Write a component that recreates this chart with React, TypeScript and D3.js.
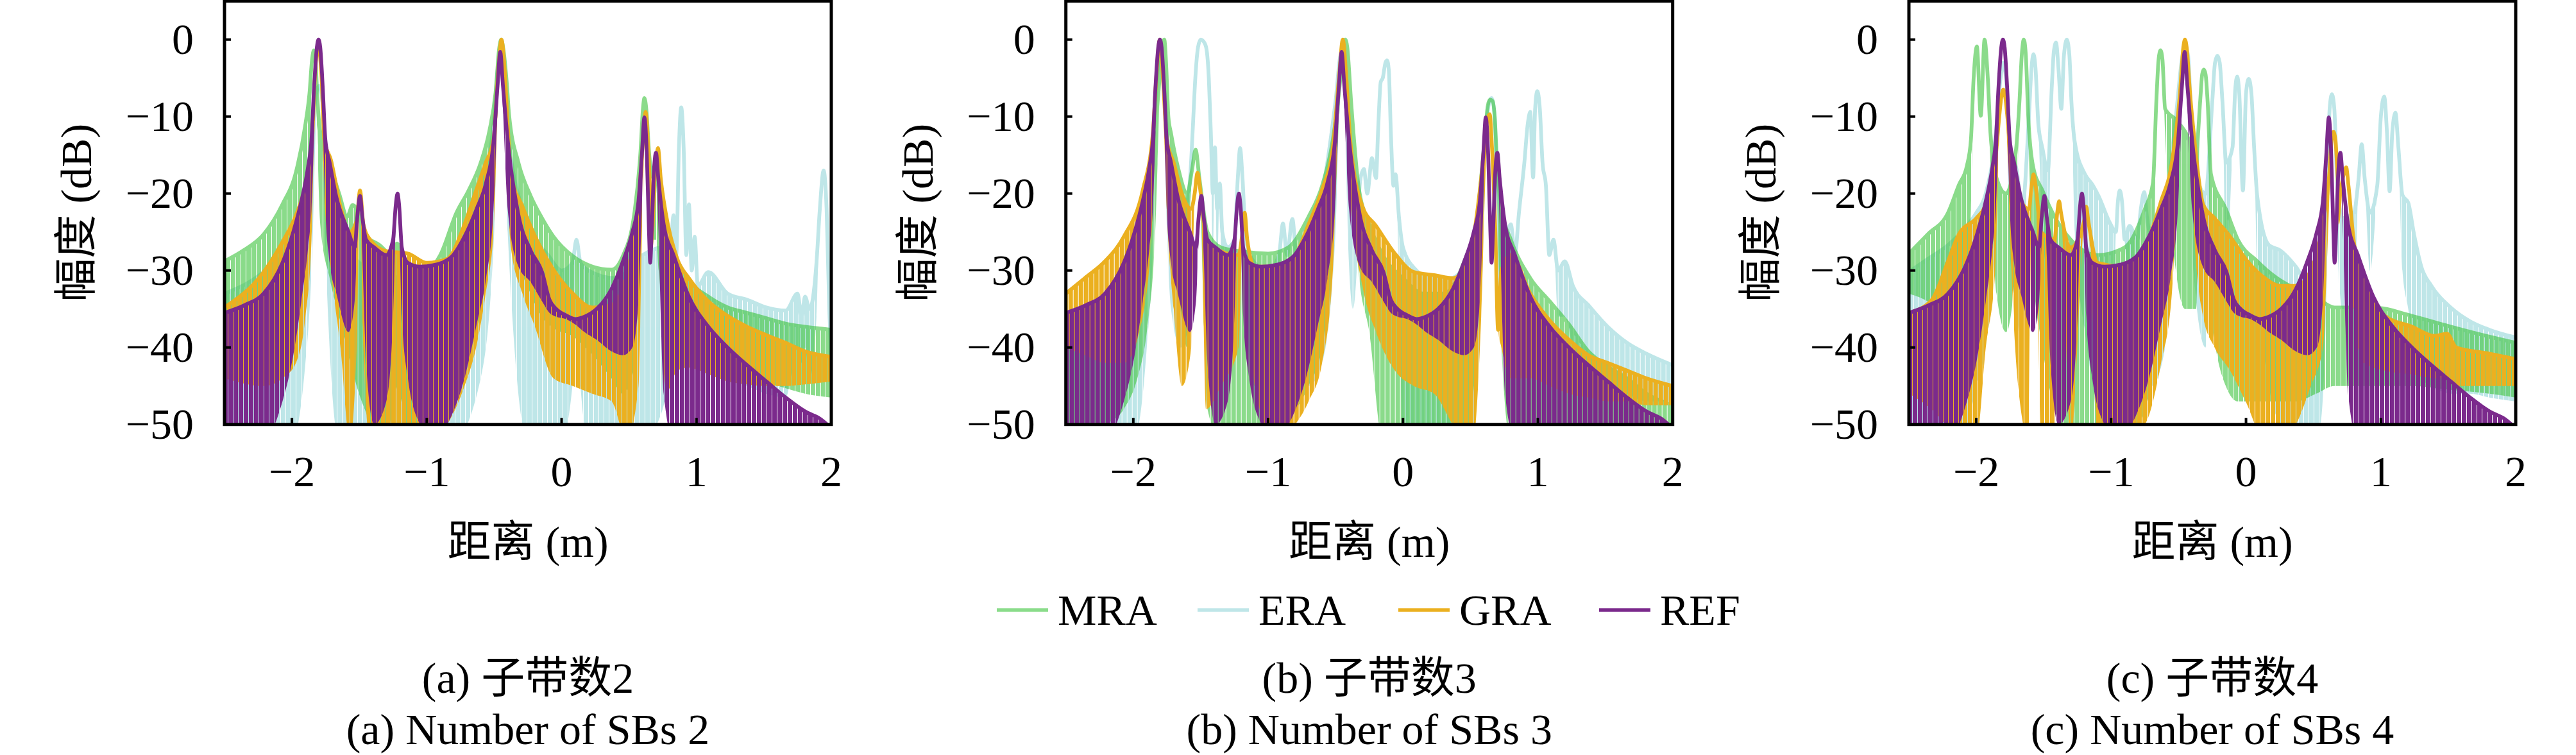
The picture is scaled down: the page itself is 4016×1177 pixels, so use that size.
import React, { useEffect, useRef } from "react";
import * as d3 from "d3";

// 각 행: [거리(m), 상단 포락선(dB), 하단 포락선(dB)] — 상단=하단이면 매끈한 로브 구간
type Row = [number, number, number];

const seriesNames = ["MRA", "ERA", "GRA", "REF"];
const xTicks = [-2, -1, 0, 1, 2];
const yTicks = [0, -10, -20, -30, -40, -50];
const captionsZh = ["(a) 子带数2", "(b) 子带数3", "(c) 子带数4"];
const captionsEn = ["(a) Number of SBs 2", "(b) Number of SBs 3", "(c) Number of SBs 4"];

// REF 곡선은 세 그림 모두 동일
const refRows: Row[] = [
  [-2.5, -35.5, -52], [-2.35, -34.5, -52], [-2.21, -33, -52], [-2.07, -29, -47], [-1.99, -25, -41],
  [-1.93, -21, -34], [-1.88, -16.5, -27], [-1.855, -13, -22], [-1.835, -6, -12], [-1.815, -1, -1],
  [-1.803, 0, 0], [-1.79, -1, -1], [-1.772, -6, -10], [-1.752, -13, -22], [-1.72, -16, -29],
  [-1.67, -20.5, -33], [-1.58, -25, -38], [-1.535, -27, -34], [-1.515, -23, -26], [-1.495, -20.3, -20.3],
  [-1.478, -23, -28], [-1.45, -26, -42], [-1.39, -27, -50], [-1.3, -28, -47], [-1.25, -26, -36],
  [-1.23, -21.5, -24], [-1.217, -20, -20], [-1.205, -21.5, -24], [-1.185, -27, -36], [-1.14, -29, -44],
  [-1.05, -29.5, -50], [-0.95, -29.3, -52], [-0.82, -28.3, -49], [-0.72, -25.6, -44], [-0.63, -22, -37],
  [-0.56, -18.6, -31], [-0.505, -13.3, -22], [-0.475, -6, -9], [-0.455, -1.6, -1.6], [-0.435, -6, -9],
  [-0.4, -13, -22], [-0.32, -22.8, -29.5], [-0.23, -27.4, -31.5], [-0.145, -30.2, -34], [-0.09, -33.8, -35.5],
  [-0.04, -35, -36], [0.03, -35.8, -36.3], [0.1, -36.3, -37], [0.17, -36, -38], [0.26, -35, -39],
  [0.37, -32.4, -40.5], [0.455, -28.8, -41], [0.525, -25, -40], [0.57, -21, -34], [0.595, -15, -22],
  [0.614, -10.1, -10.1], [0.632, -15, -20], [0.648, -25, -27], [0.657, -29, -29], [0.668, -25, -27],
  [0.685, -17, -20], [0.7, -14.7, -14.7], [0.717, -18, -24], [0.757, -24, -46], [0.83, -28, -52],
  [0.944, -33.4, -52], [1.088, -37.3, -52], [1.231, -40, -52], [1.375, -42.3, -52], [1.518, -44.4, -52],
  [1.662, -46.5, -52], [1.805, -48.3, -52], [1.92, -49.3, -52], [2.0, -50.5, -52],
];

// (a) 子带数2
const mraRowsA: Row[] = [
  [-2.5, -28.8, -40], [-2.36, -27.4, -40], [-2.21, -25.3, -40], [-2.07, -21.4, -39], [-1.97, -17.2, -36],
  [-1.9, -11, -28], [-1.87, -7, -16], [-1.85, -2.5, -4], [-1.837, -1.4, -1.4], [-1.824, -3, -4],
  [-1.81, -8, -14], [-1.79, -12, -24], [-1.72, -16, -31], [-1.65, -20, -36], [-1.59, -23, -40],
  [-1.55, -21.5, -43], [-1.52, -22, -45], [-1.46, -25.3, -48], [-1.35, -26.7, -52], [-1.27, -27.8, -50],
  [-1.22, -26.5, -45], [-1.15, -29.5, -50], [-1.0, -30, -52], [-0.9, -28, -52], [-0.78, -22.5, -46],
  [-0.69, -19.6, -41], [-0.6, -16, -35], [-0.535, -11.8, -26], [-0.49, -6.9, -12], [-0.462, -1, -1],
  [-0.448, 0, 0], [-0.434, -1, -1], [-0.405, -6, -10], [-0.39, -9.7, -16], [-0.32, -16, -28],
  [-0.23, -20.3, -33], [-0.145, -23.2, -36], [-0.06, -25.6, -37.5], [0.08, -28.1, -38.5], [0.23, -29.5, -41],
  [0.37, -29.9, -44], [0.455, -28.1, -46], [0.54, -22.5, -42], [0.586, -14.3, -22], [0.603, -9, -10],
  [0.614, -7.6, -7.6], [0.628, -9, -10], [0.65, -15, -22], [0.68, -18, -26], [0.7, -16, -26],
  [0.72, -20, -30], [0.76, -25, -36], [0.85, -28.5, -39], [0.944, -31.3, -40], [1.088, -33.4, -41],
  [1.231, -34.8, -42.5], [1.375, -35.5, -43.5], [1.518, -36.2, -44.5], [1.662, -36.9, -45.3], [1.805, -37.3, -46],
  [2.0, -37.7, -46.5],
];
const eraRowsA: Row[] = [
  [-2.5, -33, -52], [-2.2, -30, -52], [-2.0, -26, -52], [-1.9, -20, -42], [-1.85, -12, -28],
  [-1.82, -7, -10], [-1.8, -6, -6], [-1.78, -7, -10], [-1.75, -14, -28], [-1.65, -24, -52],
  [-1.55, -28, -52], [-1.4, -30, -52], [-1.2, -31, -52], [-1.0, -32, -52], [-0.8, -30, -52],
  [-0.6, -20, -44], [-0.5, -10, -25], [-0.47, -3, -4], [-0.45, -1, -1], [-0.43, -3, -4],
  [-0.4, -12, -25], [-0.25, -24, -52], [-0.1, -28, -52], [0.0, -30, -52], [0.08, -29, -45],
  [0.11, -26, -26], [0.14, -29, -45], [0.2, -30, -52], [0.4, -31, -52], [0.6, -28, -52],
  [0.75, -27, -48], [0.8, -30, -40], [0.83, -22.8, -22.8], [0.85, -28, -28], [0.87, -14, -14],
  [0.887, -8.8, -8.8], [0.905, -14, -14], [0.925, -28, -28], [0.944, -21.4, -21.4], [0.965, -30, -30],
  [0.987, -25.6, -25.6], [1.01, -32, -38], [1.088, -30.2, -41], [1.231, -33, -44], [1.375, -33.8, -45],
  [1.518, -34.8, -46], [1.662, -35.2, -46.5], [1.75, -33, -40], [1.78, -36, -42], [1.805, -33.4, -40],
  [1.84, -35, -44], [1.89, -29, -36], [1.915, -22, -22], [1.943, -17, -17], [1.965, -22, -22],
  [1.985, -35, -45], [2.0, -41, -52],
];
const graRowsA: Row[] = [
  [-2.5, -34.8, -44], [-2.21, -30.2, -45], [-2.07, -26.3, -44], [-1.97, -22.8, -42], [-1.9, -19, -36],
  [-1.855, -14.7, -26], [-1.83, -5, -8], [-1.805, -0.5, -0.5], [-1.78, -5, -8], [-1.76, -13, -20],
  [-1.71, -15.7, -30], [-1.64, -21.7, -40], [-1.57, -25, -52], [-1.52, -23.5, -40], [-1.495, -19.6, -19.6],
  [-1.47, -24, -40], [-1.42, -26, -52], [-1.3, -27.5, -52], [-1.14, -27.8, -52], [-1.0, -29, -52],
  [-0.85, -28.5, -50], [-0.72, -24, -45], [-0.634, -19.6, -40], [-0.563, -16, -33], [-0.505, -13, -25],
  [-0.47, -4, -7], [-0.446, 0, 0], [-0.422, -4, -7], [-0.4, -11, -20], [-0.376, -17.5, -27],
  [-0.29, -21.7, -33], [-0.204, -25.3, -37], [-0.06, -29.9, -44], [0.083, -33, -45], [0.227, -34.8, -46],
  [0.37, -34.5, -47], [0.485, -30.2, -52], [0.57, -21.4, -45], [0.6, -14, -22], [0.623, -9.4, -9.4],
  [0.645, -15, -20], [0.665, -22, -28], [0.69, -18, -24], [0.715, -14.1, -14.1], [0.735, -18, -30],
  [0.772, -22.5, -46], [0.858, -28.5, -43], [0.944, -31, -42.6], [1.088, -34, -43.5], [1.231, -35.9, -44.4],
  [1.375, -37.3, -44.8], [1.518, -38.4, -45], [1.662, -39.4, -45], [1.805, -40.5, -44.8], [2.0, -41.2, -44.4],
];

// (b) 子带数3
const mraRowsB: Row[] = [
  [-2.5, -37, -52], [-2.35, -35, -52], [-2.2, -33, -50], [-2.07, -29, -48], [-1.97, -24, -44],
  [-1.9, -19, -38], [-1.84, -12, -26], [-1.8, -4, -6], [-1.783, -0.5, -0.5], [-1.77, 0, 0],
  [-1.757, -3, -3], [-1.74, -10, -14], [-1.72, -12.2, -24], [-1.67, -16.5, -32], [-1.6, -20, -40],
  [-1.565, -17, -17], [-1.538, -14.3, -14.3], [-1.51, -18, -18], [-1.45, -25, -48], [-1.35, -27, -52],
  [-1.2, -27.5, -50], [-1.0, -27.8, -50], [-0.85, -27, -49], [-0.7, -23, -45], [-0.6, -19, -40],
  [-0.52, -13, -28], [-0.47, -6, -9], [-0.443, -1, -1], [-0.428, 0, 0], [-0.413, -1, -1],
  [-0.385, -8, -12], [-0.33, -19, -30], [-0.25, -24, -38], [-0.15, -28, -52], [0.0, -31, -52],
  [0.15, -33, -52], [0.3, -33, -52], [0.45, -29, -52], [0.55, -23, -40], [0.6, -14, -20],
  [0.63, -8.5, -8.5], [0.645, -7.8, -7.8], [0.665, -8, -8], [0.68, -10, -10], [0.7, -17, -22],
  [0.73, -22, -40], [0.8, -26, -52], [0.944, -31, -52], [1.088, -34, -52], [1.231, -37, -52],
  [1.375, -40.5, -52], [1.518, -42.5, -52], [1.662, -44, -52], [1.805, -46, -52], [2.0, -47.5, -52],
];
const eraRowsB: Row[] = [
  [-2.5, -38, -52], [-2.2, -34, -52], [-2.0, -29, -52], [-1.9, -22, -40], [-1.85, -12, -25],
  [-1.82, -4, -4], [-1.8, -1, -1], [-1.78, -4, -4], [-1.75, -12, -25], [-1.72, -18, -35],
  [-1.65, -20, -40], [-1.6, -21, -38], [-1.575, -17, -17], [-1.56, -12, -12], [-1.54, -5, -5],
  [-1.52, -1, -1], [-1.5, 0, 0], [-1.47, -0.5, -0.5], [-1.455, -1.5, -1.5], [-1.44, -5, -5],
  [-1.425, -12, -12], [-1.41, -20, -28], [-1.395, -14, -14], [-1.378, -22, -30], [-1.358, -18.7, -18.7],
  [-1.34, -25, -38], [-1.3, -27, -40], [-1.25, -26, -35], [-1.225, -18, -18], [-1.208, -14.1, -14.1],
  [-1.19, -18, -18], [-1.165, -26, -35], [-1.1, -29, -45], [-1.0, -30, -45], [-0.92, -28, -40],
  [-0.89, -23.9, -23.9], [-0.86, -28, -28], [-0.82, -23.3, -23.3], [-0.79, -28, -40], [-0.7, -25, -45],
  [-0.6, -20, -42], [-0.5, -8, -25], [-0.46, -2, -2], [-0.44, -2, -2], [-0.41, -10, -25],
  [-0.37, -22, -35], [-0.29, -16.8, -16.8], [-0.265, -20, -20], [-0.23, -15.4, -15.4], [-0.2, -18, -18],
  [-0.185, -12, -12], [-0.165, -5.5, -5.5], [-0.15, -5, -5], [-0.13, -3, -3], [-0.118, -2.7, -2.7],
  [-0.105, -4, -4], [-0.09, -12, -12], [-0.07, -19, -19], [-0.055, -17.5, -17.5], [-0.03, -23, -30],
  [0.0, -27, -52], [0.1, -30, -52], [0.2, -31, -52], [0.35, -31, -52], [0.5, -28, -52],
  [0.58, -20, -35], [0.63, -9, -9], [0.657, -7.6, -7.6], [0.68, -10, -10], [0.7, -20, -30],
  [0.75, -26, -40], [0.8, -24, -24], [0.83, -28, -30], [0.86, -22.5, -22.5], [0.9, -16, -16],
  [0.925, -11, -11], [0.944, -9.4, -9.4], [0.965, -17.9, -17.9], [0.98, -9, -9], [0.996, -6.7, -6.7],
  [1.015, -9, -9], [1.035, -16, -16], [1.06, -19, -19], [1.085, -28, -28], [1.116, -26, -26],
  [1.15, -30, -36], [1.2, -28.8, -36], [1.26, -32, -40], [1.375, -34.5, -43], [1.518, -37.3, -45],
  [1.662, -39.4, -46], [1.805, -40.8, -47], [2.0, -42.3, -47],
];
const graRowsB: Row[] = [
  [-2.5, -33, -40], [-2.36, -31, -41], [-2.21, -28.8, -42], [-2.07, -25.6, -42], [-1.93, -19.6, -36],
  [-1.855, -12.2, -22], [-1.83, -5, -8], [-1.803, 0, 0], [-1.78, -5, -8], [-1.752, -13, -22],
  [-1.7, -16, -35], [-1.64, -20, -45], [-1.57, -22, -40], [-1.545, -20, -20], [-1.524, -17.3, -17.3],
  [-1.5, -20, -20], [-1.46, -26, -48], [-1.35, -27.5, -45], [-1.22, -28, -40], [-1.19, -25, -25],
  [-1.174, -22.5, -22.5], [-1.155, -26, -26], [-1.1, -29.5, -45], [-0.95, -29.5, -52], [-0.8, -28, -50],
  [-0.7, -24, -47], [-0.6, -19.5, -42], [-0.52, -14, -30], [-0.475, -5, -8], [-0.446, 0, 0],
  [-0.42, -5, -8], [-0.39, -13.3, -20], [-0.3, -21.7, -32], [-0.2, -24.2, -38], [-0.06, -27.8, -43],
  [0.08, -30.2, -45], [0.23, -30.6, -46], [0.37, -31, -50], [0.45, -30, -52], [0.52, -26, -52],
  [0.58, -18, -36], [0.62, -11, -14], [0.643, -9.7, -9.7], [0.66, -14, -16], [0.685, -25, -28],
  [0.705, -37.7, -37.7], [0.73, -30, -40], [0.8, -28, -44], [0.944, -33, -44], [1.088, -36.5, -45],
  [1.231, -39, -46], [1.375, -41, -46.5], [1.518, -42, -47], [1.662, -43, -47], [1.805, -44, -47.5],
  [2.0, -45, -47.5],
];

// (c) 子带数4
const mraRowsC: Row[] = [
  [-2.5, -27.8, -33], [-2.36, -25.3, -34], [-2.21, -22.5, -36], [-2.13, -18.9, -33], [-2.07, -16.4, -30],
  [-2.04, -13, -22], [-2.02, -5, -5], [-1.996, -0.9, -0.9], [-1.967, -9.9, -9.9], [-1.939, 0, 0],
  [-1.915, -5, -5], [-1.895, -12.2, -16], [-1.85, -18, -33], [-1.78, -20, -38], [-1.71, -15, -30],
  [-1.68, -8, -8], [-1.663, -2, -2], [-1.648, 0, 0], [-1.633, -2, -2], [-1.615, -10, -12],
  [-1.58, -16.4, -30], [-1.51, -19.6, -40], [-1.42, -23, -48], [-1.3, -26, -52], [-1.1, -28, -52],
  [-0.9, -27, -52], [-0.75, -22, -48], [-0.69, -18.6, -40], [-0.665, -8, -8], [-0.648, -2.5, -2.5],
  [-0.634, -1.4, -1.4], [-0.62, -2.5, -2.5], [-0.6, -9, -12], [-0.52, -10.4, -30], [-0.45, -12, -35],
  [-0.37, -14.7, -35], [-0.34, -8, -8], [-0.325, -4.5, -4.5], [-0.313, -3.9, -3.9], [-0.3, -4.5, -4.5],
  [-0.285, -8, -8], [-0.26, -17.5, -35], [-0.15, -22, -45], [-0.06, -26, -47], [0.083, -28.8, -47],
  [0.23, -31, -47], [0.37, -32.4, -47], [0.52, -33.5, -46], [0.657, -34.8, -45], [0.944, -34.8, -45],
  [1.231, -35.9, -45], [1.518, -37.3, -45.5], [1.805, -38.6, -46], [2.0, -39.4, -46.5],
];
const eraRowsC: Row[] = [
  [-2.5, -30.2, -52], [-2.36, -28.5, -52], [-2.21, -26.7, -52], [-2.07, -24.2, -50], [-2.0, -22.5, -45],
  [-1.93, -20, -40], [-1.86, -13, -25], [-1.82, -5, -5], [-1.8, -3, -3], [-1.78, -5, -5],
  [-1.75, -14, -28], [-1.7, -17, -35], [-1.66, -22, -40], [-1.61, -10, -10], [-1.59, -3.5, -3.5],
  [-1.576, -1.9, -1.9], [-1.562, -3.5, -3.5], [-1.54, -11, -11], [-1.51, -14.1, -25], [-1.47, -17, -30],
  [-1.44, -6, -6], [-1.425, -1.5, -1.5], [-1.409, -0.4, -0.4], [-1.39, -4, -4], [-1.37, -9, -9],
  [-1.35, -2, -2], [-1.329, 0, 0], [-1.31, -2, -2], [-1.295, -8, -8], [-1.27, -13.3, -25],
  [-1.194, -17.5, -38], [-1.137, -18.9, -45], [-1.094, -20.3, -50], [-1.007, -23.9, -52], [-0.965, -25, -25],
  [-0.95, -21, -21], [-0.936, -19.6, -19.6], [-0.92, -21, -21], [-0.9, -26, -26], [-0.864, -24.2, -35],
  [-0.806, -26, -40], [-0.78, -22, -22], [-0.755, -19.8, -19.8], [-0.735, -23, -23], [-0.7, -26, -45],
  [-0.6, -22, -40], [-0.52, -10, -20], [-0.47, -2, -2], [-0.45, -1, -1], [-0.43, -2, -2],
  [-0.39, -16, -30], [-0.3, -20, -40], [-0.25, -8, -8], [-0.23, -3, -3], [-0.212, -2.1, -2.1],
  [-0.195, -3, -3], [-0.175, -8, -8], [-0.146, -16, -30], [-0.1, -14, -14], [-0.08, -6.5, -6.5],
  [-0.066, -4.8, -4.8], [-0.05, -7, -7], [-0.023, -19.6, -19.6], [0.0, -7, -7], [0.02, -5.1, -5.1],
  [0.04, -7, -7], [0.06, -14, -14], [0.083, -20.3, -30], [0.17, -26.7, -45], [0.255, -27.4, -50],
  [0.37, -29.5, -52], [0.455, -31.6, -52], [0.55, -31, -50], [0.6, -20, -30], [0.62, -9, -9],
  [0.637, -7.1, -7.1], [0.655, -9, -9], [0.675, -18, -25], [0.715, -23.2, -35], [0.8, -22.5, -35],
  [0.835, -18, -18], [0.858, -13.6, -13.6], [0.88, -18, -18], [0.92, -22.5, -30], [0.973, -19, -19],
  [1.0, -10, -10], [1.025, -7.4, -7.4], [1.045, -12, -12], [1.065, -19.7, -19.7], [1.085, -12, -12],
  [1.108, -9.5, -9.5], [1.13, -14, -14], [1.16, -20.2, -30], [1.203, -21.2, -35], [1.246, -25.3, -40],
  [1.3, -29.5, -44], [1.375, -32, -45], [1.518, -34.8, -46], [1.662, -36.6, -46], [1.805, -37.7, -46.5],
  [2.0, -38.7, -47],
];
const graRowsC: Row[] = [
  [-2.5, -35.5, -46], [-2.33, -33.8, -48], [-2.21, -28.8, -50], [-2.13, -25.3, -50], [-2.0, -23.2, -52],
  [-1.93, -21.4, -40], [-1.86, -16, -30], [-1.83, -10, -12], [-1.815, -7.5, -7.5], [-1.8, -6.5, -6.5],
  [-1.785, -7.5, -7.5], [-1.77, -10, -14], [-1.74, -16, -30], [-1.69, -20, -45], [-1.61, -22, -52],
  [-1.59, -19, -19], [-1.576, -17.5, -17.5], [-1.56, -19, -19], [-1.52, -25, -52], [-1.42, -26, -52],
  [-1.4, -22.5, -22.5], [-1.386, -21, -21], [-1.372, -22.5, -22.5], [-1.3, -27, -52], [-1.2, -23.5, -23.5],
  [-1.185, -21.7, -21.7], [-1.17, -23.5, -23.5], [-1.1, -29, -52], [-0.9, -29.5, -52], [-0.75, -27, -50],
  [-0.63, -21, -42], [-0.55, -16, -33], [-0.49, -7, -10], [-0.465, -1, -1], [-0.453, 0, 0],
  [-0.44, -1, -1], [-0.415, -7, -10], [-0.385, -12.6, -25], [-0.318, -21.4, -36], [-0.233, -23.2, -40],
  [-0.118, -25.6, -43], [-0.003, -28.5, -47], [0.14, -31, -52], [0.255, -32, -52], [0.37, -32, -50],
  [0.48, -30, -45], [0.57, -24, -40], [0.615, -18, -22], [0.635, -13, -13], [0.649, -12, -12],
  [0.663, -13, -13], [0.69, -20, -24], [0.725, -17.5, -17.5], [0.743, -16.6, -16.6], [0.76, -19, -19],
  [0.8, -26.3, -35], [0.873, -31, -42], [1.03, -35.9, -43], [1.231, -37.3, -43.5], [1.4, -38.5, -44],
  [1.49, -38.2, -44], [1.56, -40, -45], [1.805, -40.8, -45], [2.0, -41.5, -45],
];

const colors: Record<string, string> = {
  MRA: "#3ec43e",
  ERA: "#bfe6e8",
  GRA: "#ebb020",
  REF: "#7b2a8c",
};
const opacities: Record<string, number> = { MRA: 0.6, ERA: 1, GRA: 1, REF: 1 };
// 그리는 순서 (아래 → 위)
const drawOrder = ["ERA", "MRA", "GRA", "REF"];

const serif = "'Liberation Serif', 'Noto Sans CJK SC', serif";

const App = () => {
  const svgRef = useRef<SVGSVGElement | null>(null);

  useEffect(() => {
    if (!svgRef.current) return;
    const svg = d3.select(svgRef.current);
    svg.selectAll("*").remove();

    const panels: Record<string, Row[]>[] = [
      { MRA: mraRowsA, ERA: eraRowsA, GRA: graRowsA, REF: refRows },
      { MRA: mraRowsB, ERA: eraRowsB, GRA: graRowsB, REF: refRows },
      { MRA: mraRowsC, ERA: eraRowsC, GRA: graRowsC, REF: refRows },
    ];

    const panelLeft = [350, 1661.7, 2976];
    const plotTop = 1.7;
    const plotW = 946;
    const plotH = 660;

    const x = d3.scaleLinear().domain([-2.5, 2]).range([0, plotW]);
    const y = d3.scaleLinear().domain([-50, 5]).range([plotH, 0]);

    const defs = svg.append("defs");
    defs
      .append("clipPath")
      .attr("id", "plot-clip")
      .append("rect")
      .attr("width", plotW)
      .attr("height", plotH);

    // 빽빽한 진동 구간은 세로 줄무늬 패턴으로 표현 (주기 8px, 틈 ~1px)
    drawOrder.forEach((name, k) => {
      defs
        .append("pattern")
        .attr("id", `stripe-${name}`)
        .attr("patternUnits", "userSpaceOnUse")
        .attr("x", k * 2)
        .attr("width", 8)
        .attr("height", 20)
        .append("rect")
        .attr("width", 7)
        .attr("height", 20)
        .attr("fill", colors[name]);
    });

    const area = d3
      .area<Row>()
      .x((d) => x(d[0]))
      .y0((d) => y(d[2]))
      .y1((d) => y(d[1]))
      .curve(d3.curveMonotoneX);
    const line = d3
      .line<Row>()
      .x((d) => x(d[0]))
      .y((d) => y(d[1]))
      .curve(d3.curveMonotoneX);

    panels.forEach((panel, p) => {
      const g = svg
        .append("g")
        .attr("transform", `translate(${panelLeft[p]},${plotTop})`);

      const plot = g.append("g").attr("clip-path", "url(#plot-clip)");
      drawOrder.forEach((name) => {
        const rows = panel[name];
        const sg = plot.append("g").attr("opacity", opacities[name]);
        sg.append("path")
          .attr("d", area(rows) as string)
          .attr("fill", `url(#stripe-${name})`);
        sg.append("path")
          .attr("d", line(rows) as string)
          .attr("fill", "none")
          .attr("stroke", colors[name])
          .attr("stroke-width", 5.8)
          .attr("stroke-linejoin", "round")
          .attr("stroke-linecap", "round");
      });

      // 눈금 (안쪽)
      g.selectAll("line.ytick")
        .data(yTicks.filter((v) => v > -50))
        .enter()
        .append("line")
        .attr("x1", 0)
        .attr("x2", 10)
        .attr("y1", (d) => y(d))
        .attr("y2", (d) => y(d))
        .attr("stroke", "#000")
        .attr("stroke-width", 4);
      g.selectAll("line.xtick")
        .data(xTicks.filter((v) => v < 2))
        .enter()
        .append("line")
        .attr("x1", (d) => x(d))
        .attr("x2", (d) => x(d))
        .attr("y1", plotH)
        .attr("y2", plotH - 10)
        .attr("stroke", "#000")
        .attr("stroke-width", 4);

      g.append("rect")
        .attr("width", plotW)
        .attr("height", plotH)
        .attr("fill", "none")
        .attr("stroke", "#000")
        .attr("stroke-width", 5);

      // 눈금 라벨
      g.selectAll("text.ylab")
        .data(yTicks)
        .enter()
        .append("text")
        .attr("x", -48)
        .attr("y", (d) => y(d))
        .attr("dy", "0.33em")
        .attr("text-anchor", "end")
        .style("font-family", serif)
        .style("font-size", "68px")
        .text((d) => (d < 0 ? `\u2212${-d}` : `${d}`));
      g.selectAll("text.xlab")
        .data(xTicks)
        .enter()
        .append("text")
        .attr("x", (d) => x(d))
        .attr("y", plotH + 96)
        .attr("text-anchor", "middle")
        .style("font-family", serif)
        .style("font-size", "68px")
        .text((d) => (d < 0 ? `\u2212${-d}` : `${d}`));

      // 축 제목
      g.append("text")
        .attr("transform", `translate(${-232},${plotH / 2}) rotate(-90)`)
        .attr("text-anchor", "middle")
        .attr("dy", "0.35em")
        .style("font-family", serif)
        .style("font-size", "68px")
        .text("幅度 (dB)");
      g.append("text")
        .attr("x", plotW / 2)
        .attr("y", 866)
        .attr("text-anchor", "middle")
        .style("font-family", serif)
        .style("font-size", "68px")
        .text("距离 (m)");

      // 캡션
      g.append("text")
        .attr("x", plotW / 2)
        .attr("y", 1078)
        .attr("text-anchor", "middle")
        .style("font-family", serif)
        .style("font-size", "68px")
        .text(captionsZh[p]);
      g.append("text")
        .attr("x", plotW / 2)
        .attr("y", 1158)
        .attr("text-anchor", "middle")
        .style("font-family", serif)
        .style("font-size", "68px")
        .text(captionsEn[p]);
    });

    // 범례
    const legend = svg.append("g").attr("transform", "translate(1554,951)");
    seriesNames.forEach((name, i) => {
      const item = legend.append("g").attr("transform", `translate(${i * 313},0)`);
      item
        .append("line")
        .attr("x1", 0)
        .attr("x2", 80)
        .attr("stroke", colors[name])
        .attr("stroke-opacity", opacities[name])
        .attr("stroke-width", 5.6);
      item
        .append("text")
        .attr("x", 95)
        .attr("y", 23)
        .style("font-family", serif)
        .style("font-size", "68px")
        .text(name);
    });
  }, []);

  return (
    <svg
      ref={svgRef}
      width={4016}
      height={1177}
      style={{ position: "absolute", left: 0, top: 0, background: "#fff" }}
    />
  );
};

export default App;
